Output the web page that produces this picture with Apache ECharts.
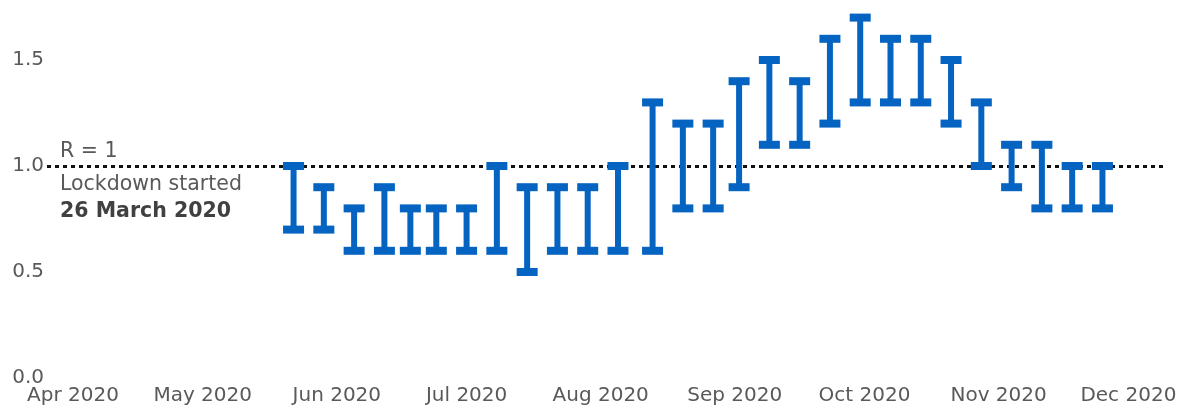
<!DOCTYPE html>
<html>
<head>
<meta charset="utf-8">
<script src="https://cdn.jsdelivr.net/npm/echarts@6/dist/echarts.min.js"></script>
<style>
  html, body { margin: 0; padding: 0; background: #fff; }
  #chart { width: 1191px; height: 408px; }
</style>
</head>
<body>
<div id="chart"></div>
<script>
// Weekly estimates of the reproduction number R (lower and upper bounds)
const dates = [
  '2020-05-22', '2020-05-29', '2020-06-05', '2020-06-12', '2020-06-18', '2020-06-24',
  '2020-07-01', '2020-07-08', '2020-07-15', '2020-07-22', '2020-07-29', '2020-08-05',
  '2020-08-13', '2020-08-20', '2020-08-27', '2020-09-02', '2020-09-09', '2020-09-16',
  '2020-09-23', '2020-09-30', '2020-10-07', '2020-10-14', '2020-10-21', '2020-10-28',
  '2020-11-04', '2020-11-11', '2020-11-18', '2020-11-25'
];
const lower = [
  0.7, 0.7, 0.6, 0.6, 0.6, 0.6,
  0.6, 0.6, 0.5, 0.6, 0.6, 0.6,
  0.6, 0.8, 0.8, 0.9, 1.1, 1.1,
  1.2, 1.3, 1.3, 1.3, 1.2, 1.0,
  0.9, 0.8, 0.8, 0.8
];
const upper = [
  1.0, 0.9, 0.8, 0.9, 0.8, 0.8,
  0.8, 1.0, 0.9, 0.9, 0.9, 1.0,
  1.3, 1.2, 1.2, 1.4, 1.5, 1.4,
  1.6, 1.7, 1.6, 1.6, 1.5, 1.3,
  1.1, 1.1, 1.0, 1.0
];
const yTicks = [0, 0.5, 1.0, 1.5];
const monthNames = ['Jan', 'Feb', 'Mar', 'Apr', 'May', 'Jun', 'Jul', 'Aug', 'Sep', 'Oct', 'Nov', 'Dec'];
const lockdownDate = '2020-03-26';
const axisEnd = '2020-12-09';
const thresholdR = 1;

const FONT = '"DejaVu Sans", Verdana, sans-serif';
const BAR_COLOR = '#0563c1';
const TEXT_COLOR = '#595959';

const rangeData = dates.map((d, i) => [d, lower[i], upper[i]]);

function renderRange(params, api) {
  const lo = api.coord([api.value(0), api.value(1)]);
  const hi = api.coord([api.value(0), api.value(2)]);
  const x = lo[0];
  const capW = 21, capH = 8, stemW = 6;
  const style = { fill: BAR_COLOR };
  return {
    type: 'group',
    children: [
      { type: 'rect', shape: { x: x - stemW / 2, y: hi[1], width: stemW, height: lo[1] - hi[1] }, style },
      { type: 'rect', shape: { x: x - capW / 2, y: hi[1] - capH / 2, width: capW, height: capH }, style },
      { type: 'rect', shape: { x: x - capW / 2, y: lo[1] - capH / 2, width: capW, height: capH }, style }
    ]
  };
}

const chart = echarts.init(document.getElementById('chart'), null, { renderer: 'canvas' });
chart.setOption({
  animation: false,
  backgroundColor: '#ffffff',
  textStyle: { fontFamily: FONT },
  grid: { left: 47, right: 28, top: 7, bottom: 30, containLabel: false },
  xAxis: {
    type: 'time',
    min: lockdownDate,
    max: axisEnd,
    axisLine: { show: false },
    axisTick: { show: false },
    splitLine: { show: false },
    axisLabel: {
      color: TEXT_COLOR,
      fontFamily: FONT,
      fontSize: 20,
      margin: 8,
      showMinLabel: false,
      showMaxLabel: false,
      hideOverlap: false,
      formatter: function (value) {
        const d = new Date(value);
        if (d.getDate() !== 1) return '';
        return monthNames[d.getMonth()] + ' ' + d.getFullYear();
      }
    }
  },
  yAxis: {
    type: 'value',
    min: 0,
    max: 1.75,
    interval: 0.5,
    axisLine: { show: false },
    axisTick: { show: false },
    splitLine: { show: false },
    axisLabel: {
      color: TEXT_COLOR,
      fontFamily: FONT,
      fontSize: 20,
      margin: 3,
      showMaxLabel: false,
      formatter: function (v) {
        return yTicks.indexOf(v) >= 0 ? v.toFixed(1) : '';
      }
    }
  },
  series: [{
    type: 'custom',
    name: 'R',
    renderItem: renderRange,
    encode: { x: 0, y: [1, 2] },
    data: rangeData,
    z: 3,
    markLine: {
      silent: true,
      symbol: 'none',
      z: 2,
      lineStyle: { color: '#111', width: 3, type: [4, 4] },
      label: {
        show: true,
        position: 'insideStartTop',
        distance: [13, 4],
        color: TEXT_COLOR,
        fontFamily: FONT,
        fontSize: 20.5,
        formatter: 'R = ' + thresholdR
      },
      data: [{ yAxis: thresholdR }]
    },
    markPoint: {
      silent: true,
      symbol: 'circle',
      symbolSize: 0,
      data: [{ coord: [lockdownDate, thresholdR] }],
      label: {
        show: true,
        position: [13, 5],
        align: 'left',
        verticalAlign: 'top',
        formatter: '{a|Lockdown started}\n{b|26 March 2020}',
        rich: {
          a: { color: TEXT_COLOR, fontFamily: FONT, fontSize: 20.5, lineHeight: 27 },
          b: { color: '#404040', fontFamily: FONT, fontSize: 20.5, fontWeight: 'bold', lineHeight: 27 }
        }
      }
    }
  }]
});
</script>
</body>
</html>
